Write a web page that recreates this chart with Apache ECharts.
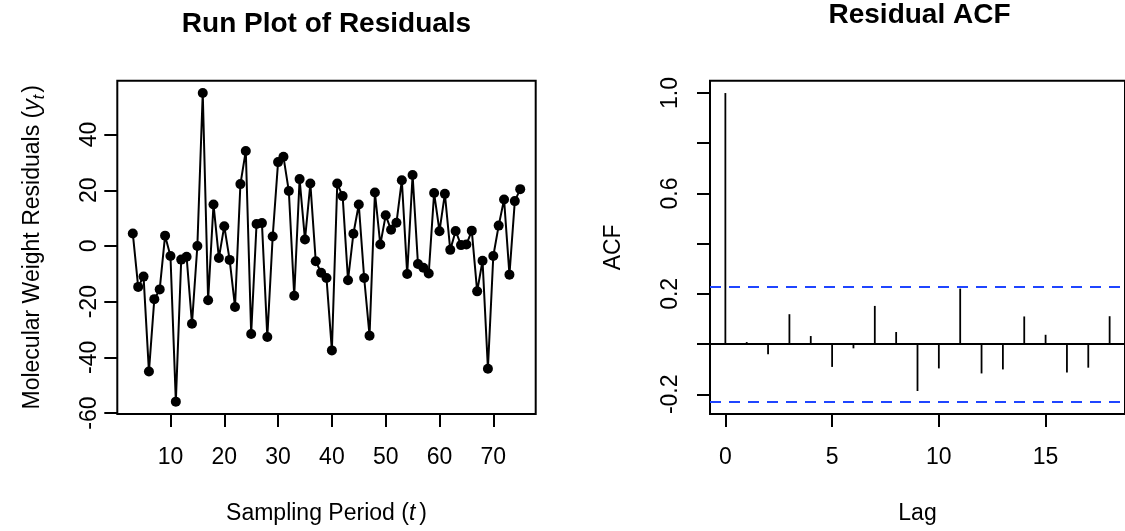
<!DOCTYPE html>
<html><head><meta charset="utf-8">
<script src="https://cdn.jsdelivr.net/npm/echarts@6/dist/echarts.min.js"></script>
<style>html,body{margin:0;padding:0;background:#fff}#c{width:1125px;height:531px}</style>
</head><body><div id="c"></div>
<script>
// ---- data ----
const periods = [3,4,5,6,7,8,9,10,11,12,13,14,15,16,17,18,19,20,21,22,23,24,25,26,27,28,29,30,31,32,33,34,35,36,37,38,39,40,41,42,43,44,45,46,47,48,49,50,51,52,53,54,55,56,57,58,59,60,61,62,63,64,65,66,67,68,69,70,71,72,73,74,75];
const residuals = [4.5,-14.7,-11.0,-45.1,-19.1,-15.6,3.7,-3.6,-55.9,-4.9,-3.9,-27.9,0.0,54.9,-19.5,14.9,-4.3,7.1,-5.0,-21.9,22.2,34.1,-31.6,7.9,8.2,-32.7,3.4,30.1,32.0,19.7,-17.9,24.0,2.3,22.4,-5.5,-9.6,-11.5,-37.5,22.4,17.9,-12.3,4.4,14.9,-11.5,-32.2,19.2,0.5,11.0,5.8,8.3,23.6,-10.1,25.5,-6.5,-7.8,-9.9,19.0,5.3,18.7,-1.4,5.4,0.3,0.5,5.5,-16.3,-5.3,-44.1,-3.6,7.3,16.7,-10.3,16.1,20.4];
const lags = [0,1,2,3,4,5,6,7,8,9,10,11,12,13,14,15,16,17,18];
const acfValues = [1.0,0.008,-0.041,0.119,0.032,-0.091,-0.017,0.152,0.048,-0.187,-0.097,0.221,-0.117,-0.101,0.110,0.037,-0.113,-0.094,0.111];
const runXTicks = [10,20,30,40,50,60,70];
const runYTicks = [-60,-40,-20,0,20,40];
const acfXTicks = [0,5,10,15];
const acfYTicks = [-0.2,0,0.2,0.4,0.6,0.8,1.0];
const acfYLabels = [-0.2,0.2,0.6,1.0];

// ---- derived ----
const clim = 1.959964 / Math.sqrt(periods.length);
function padRange(lo, hi){ const p = (hi-lo)*0.04; return [lo-p, hi+p]; }
const rx = padRange(Math.min(...periods), Math.max(...periods));
const ry = padRange(Math.min(...residuals), Math.max(...residuals));
const ax = padRange(Math.min(...lags), Math.max(...lags));
const ay = padRange(Math.min(-clim, ...acfValues), Math.max(clim, ...acfValues));

const FONT = '"Liberation Sans", Arial, Helvetica, sans-serif';
const runData = periods.map((t,i)=>[t, residuals[i]]);
const acfData = lags.map((l,i)=>[l, acfValues[i]]);

function xAxisDef(gridIndex, range, ticks, name){
  return {
    type:'value', gridIndex, min:range[0], max:range[1],
    axisLine:{show:false, onZero:false},
    axisTick:{show:true, inside:false, length:13, lineStyle:{color:'#000', width:2}, customValues:ticks},
    axisLabel:{show:true, margin:32, fontSize:23, fontFamily:FONT, color:'#000', customValues:ticks},
    splitLine:{show:false},
    name, nameLocation:'middle', nameGap:88,
    nameTextStyle:{fontSize:23, fontFamily:FONT, color:'#000',
      rich:{n:{fontSize:23,fontFamily:FONT,color:'#000'}, i:{fontSize:23,fontFamily:FONT,fontStyle:'italic',color:'#000',padding:[0,4,0,0]}}}
  };
}
function yAxisDef(gridIndex, range, ticks, labels, fmt, margin, name, nameGap){
  return {
    type:'value', gridIndex, min:range[0], max:range[1],
    axisLine:{show:false, onZero:false},
    axisTick:{show:true, inside:false, length:13, lineStyle:{color:'#000', width:2}, customValues:ticks},
    axisLabel:{show:true, rotate:90, margin, fontSize:23, fontFamily:FONT, color:'#000', customValues:labels, formatter:fmt},
    splitLine:{show:false},
    name, nameLocation:'middle', nameGap, nameRotate:90,
    nameTextStyle:{fontSize:23, fontFamily:FONT, color:'#000',
      rich:{
        n:{fontSize:23,fontFamily:FONT,color:'#000',lineHeight:30,verticalAlign:'middle'},
        i:{fontSize:23,fontFamily:FONT,fontStyle:'italic',color:'#000',lineHeight:30,verticalAlign:'middle'},
        s:{fontSize:16,fontFamily:FONT,fontStyle:'italic',color:'#000',lineHeight:14,verticalAlign:'bottom',padding:[0,2,0,0]}
      }}
  };
}

const chart = echarts.init(document.getElementById('c'), null, {renderer:'canvas'});
chart.setOption({
  animation:false,
  backgroundColor:'#fff',
  graphic:[
    {type:'text', x:326.5, y:24, style:{text:'Run Plot of Residuals', font:'bold 28px '+FONT, fill:'#000', textAlign:'center', textVerticalAlign:'middle'}},
    {type:'text', x:919.5, y:15.5, style:{text:'Residual ACF', font:'bold 28px '+FONT, fill:'#000', textAlign:'center', textVerticalAlign:'middle'}}
  ],
  grid:[
    {left:117.3, top:80.7, width:418.4, height:333.3, show:true, borderColor:'#000', borderWidth:2, backgroundColor:'transparent', containLabel:false},
    {left:710, top:80.7, width:418.8, height:333.3, show:true, borderColor:'#000', borderWidth:2, backgroundColor:'transparent', containLabel:false}
  ],
  xAxis:[
    xAxisDef(0, rx, runXTicks, '{n|Sampling Period (}{i|t}{n|)}'),
    xAxisDef(1, ax, acfXTicks, 'Lag')
  ],
  yAxis:[
    yAxisDef(0, ry, runYTicks, runYTicks, v=>String(v), 16, '{n|Molecular Weight Residuals (}{i|y}{s|t}{n|)}', 70),
    yAxisDef(1, ay, acfYTicks, acfYLabels, v=>Number(v).toFixed(1), 28, 'ACF', 85)
  ],
  series:[
    {type:'line', xAxisIndex:0, yAxisIndex:0, data:runData, symbol:'circle', symbolSize:10,
      itemStyle:{color:'#000'}, lineStyle:{color:'#000', width:2}, silent:true},
    {type:'custom', xAxisIndex:1, yAxisIndex:1, data:acfData, silent:true,
      renderItem:(params, api)=>{
        const p0 = api.coord([api.value(0), 0]);
        const p1 = api.coord([api.value(0), api.value(1)]);
        return {type:'line', shape:{x1:p0[0], y1:p0[1], x2:p1[0], y2:p1[1]}, style:{stroke:'#000', lineWidth:1.8}};
      },
      markLine:{silent:true, symbol:['none','none'], label:{show:false}, animation:false,
        data:[
          {yAxis:0, lineStyle:{color:'#000', width:1.8, type:'solid'}},
          {yAxis:clim, lineStyle:{color:'#1f45ff', width:2, type:[11,8]}},
          {yAxis:-clim, lineStyle:{color:'#1f45ff', width:2, type:[11,8]}}
        ]}
    }
  ]
});
</script></body></html>
